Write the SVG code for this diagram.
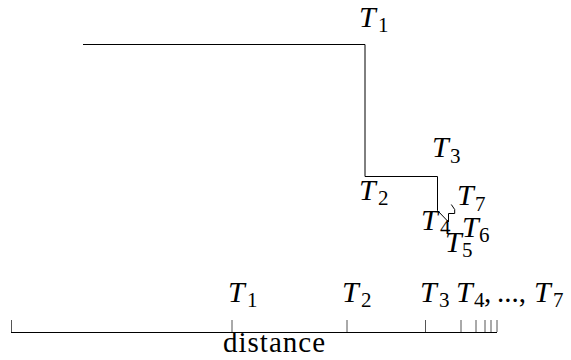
<svg xmlns="http://www.w3.org/2000/svg" width="571" height="360" viewBox="0 0 571 360">
<rect width="571" height="360" fill="#fff"/>
<g id="connectors" fill="none" stroke="#000" stroke-width="1">
<path d="M83,44.5 H365 V176.5 H437.5 V210.5 L448.5,222 V213.5 H454.7 V209.5 L451.3,204.5"/>
</g>
<g id="n-T1"><text font-family="Liberation Serif" font-style="italic" font-size="30" x="359" y="27">T</text><text font-family="Liberation Serif" font-size="21" x="378" y="32">1</text></g>
<g id="n-T2"><text font-family="Liberation Serif" font-style="italic" font-size="30" x="359" y="200">T</text><text font-family="Liberation Serif" font-size="21" x="378" y="205">2</text></g>
<g id="n-T3"><text font-family="Liberation Serif" font-style="italic" font-size="30" x="432" y="157">T</text><text font-family="Liberation Serif" font-size="21" x="450" y="163">3</text></g>
<g id="n-T4"><text font-family="Liberation Serif" font-style="italic" font-size="30" x="421" y="230">T</text><text font-family="Liberation Serif" font-size="21" x="440" y="234">4</text></g>
<g id="n-T5"><text font-family="Liberation Serif" font-style="italic" font-size="30" x="445" y="252">T</text><text font-family="Liberation Serif" font-size="21" x="462" y="257">5</text></g>
<g id="n-T6"><text font-family="Liberation Serif" font-style="italic" font-size="30" x="462" y="237">T</text><text font-family="Liberation Serif" font-size="21" x="479" y="242">6</text></g>
<g id="n-T7"><text font-family="Liberation Serif" font-style="italic" font-size="30" x="457" y="205">T</text><text font-family="Liberation Serif" font-size="21" x="475" y="211">7</text></g>
<g id="axis">
<path d="M11,332.5 H497" fill="none" stroke="#000" stroke-width="1"/>
<path d="M11.5,320 V332 M232,320 V332 M347,320 V332 M425.5,320 V332 M461,320 V332 M476,320 V332 M485,320 V332 M491,320 V332 M497,320 V332" stroke="#555" stroke-width="1"/>
<text font-family="Liberation Serif" font-style="italic" font-size="30" x="228" y="302">T</text><text font-family="Liberation Serif" font-size="21" x="247" y="307">1</text>
<text font-family="Liberation Serif" font-style="italic" font-size="30" x="342" y="302">T</text><text font-family="Liberation Serif" font-size="21" x="361" y="307">2</text>
<text font-family="Liberation Serif" font-style="italic" font-size="30" x="420" y="302">T</text><text font-family="Liberation Serif" font-size="21" x="439" y="307">3</text>
<text font-family="Liberation Serif" font-style="italic" font-size="30" x="456" y="302">T</text><text font-family="Liberation Serif" font-size="21" x="474" y="307">4</text>
<text font-family="Liberation Serif" font-size="29" x="484" y="302">,</text><text font-family="Liberation Serif" font-size="29" x="497" y="302">...,</text>
<text font-family="Liberation Serif" font-style="italic" font-size="30" x="534" y="302">T</text><text font-family="Liberation Serif" font-size="21" x="553" y="307">7</text>
<text font-family="Liberation Serif" font-size="29" x="223" y="352" textLength="102" lengthAdjust="spacing">distance</text>
</g>
</svg>
